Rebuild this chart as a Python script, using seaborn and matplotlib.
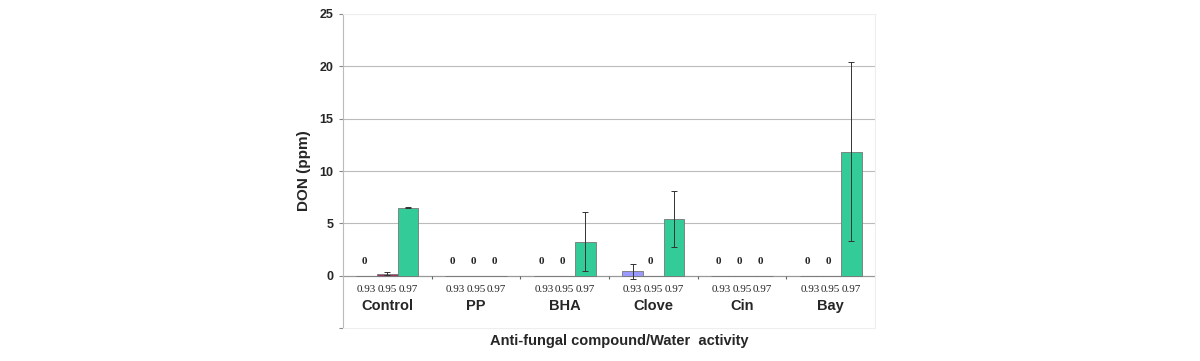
import numpy as np
import pandas as pd
import seaborn as sns
import matplotlib.pyplot as plt

compounds = ['Control', 'PP', 'BHA', 'Clove', 'Cin', 'Bay']
water_act = ['0.93', '0.95', '0.97']
don_093 = [0.0, 0.0, 0.0, 0.4, 0.0, 0.0]
don_095 = [0.2, 0.0, 0.0, 0.0, 0.0, 0.0]
don_097 = [6.5, 0.0, 3.25, 5.4, 0.0, 11.85]
err_093 = [0.0, 0.0, 0.0, 0.7, 0.0, 0.0]
err_095 = [0.15, 0.0, 0.0, 0.0, 0.0, 0.0]
err_097 = [0.05, 0.0, 2.8, 2.7, 0.0, 8.55]

colors = ['#9999ff', '#993366', '#33cc99']

rows = []
for aw, vals, errs in zip(water_act, [don_093, don_095, don_097], [err_093, err_095, err_097]):
    for c, v, e in zip(compounds, vals, errs):
        rows.append({'compound': c, 'aw': aw, 'don': v, 'err': e})
df = pd.DataFrame(rows)

sns.set_style('white')
plt.rcParams['font.family'] = ['Liberation Sans', 'DejaVu Sans']

fig = plt.figure(figsize=(12, 3.61), dpi=100)
ax = fig.add_axes([343 / 1200, 33 / 361, 532 / 1200, 314 / 361])

sns.barplot(data=df, x='compound', y='don', hue='aw', order=compounds, hue_order=water_act,
            palette=colors, saturation=1, errorbar=None, width=0.7, edgecolor='#777777',
            linewidth=0.6, legend=False, ax=ax, zorder=3)

# error bars, "0" labels and water activity labels, placed from the bars
for hi, aw in enumerate(water_act):
    sub = df[df['aw'] == aw].set_index('compound').loc[compounds]
    bars = ax.containers[hi]
    for bar, (c, r) in zip(bars, sub.iterrows()):
        xc = bar.get_x() + bar.get_width() / 2
        if r['err'] > 0:
            ax.errorbar(xc, r['don'], yerr=r['err'], color='#333333', elinewidth=0.7,
                        capsize=2.5, capthick=0.7, zorder=4)
        if r['don'] == 0:
            ax.text(xc - 0.03, 1.4, '0', ha='center', va='center', fontsize=8,
                    fontweight='bold', family='Liberation Serif')
        ax.text(xc, -1.35, aw, ha='center', va='center', fontsize=8, family='Liberation Serif')

for i, c in enumerate(compounds):
    ax.text(i, -2.9, c, ha='center', va='center', fontsize=10.5, fontweight='bold')

ax.axhline(0, color='#999999', lw=0.9, zorder=2)
ax.vlines(np.arange(0.5, 5.5, 1.0), -0.35, 0, color='#666666', lw=0.8, zorder=2)

ax.set_ylim(-5, 25)
ax.set_xlim(-0.5, 5.5)
ax.set_yticks([-5, 0, 5, 10, 15, 20, 25])
ax.set_yticklabels(['', '0', '5', '10', '15', '20', '25'], fontsize=9, fontweight='bold')
ax.set_xticks([])
for y in [5, 10, 15, 20]:
    ax.axhline(y, color='#bbbbbb', lw=0.8, zorder=1)
ax.axhline(25, color='#eeeeee', lw=0.8, zorder=1)

ax.tick_params(axis='y', length=3, width=0.8, color='#888888', pad=4, left=True)
ax.spines['left'].set_color('#bbbbbb')
for s in ['top', 'right', 'bottom']:
    ax.spines[s].set_color('#eeeeee')

ax.set_xlabel('')
ax.set_ylabel('DON (ppm)', fontsize=11, fontweight='bold', labelpad=6)
fig.text(619 / 1200, 1 - 341 / 361, 'Anti-fungal compound/Water  activity', ha='center', va='center',
         fontsize=10.5, fontweight='bold')

fig.savefig('out.png', dpi=100)
